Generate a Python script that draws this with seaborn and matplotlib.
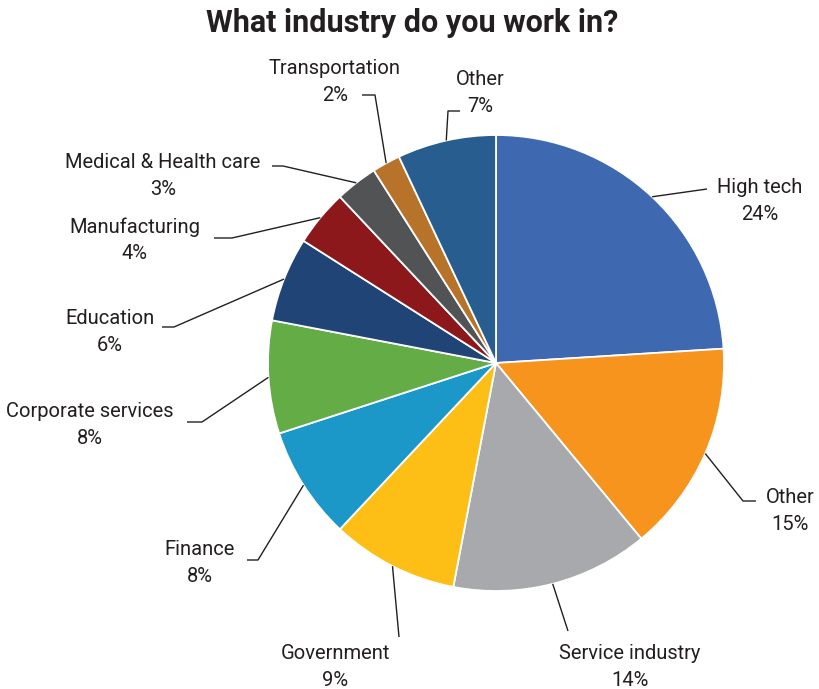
import numpy as np
import matplotlib
matplotlib.use("Agg")
import matplotlib.pyplot as plt
import seaborn as sns

# Survey answers: industry of respondents, in percent, clockwise from 12 o'clock
industries = ["High tech", "Other", "Service industry", "Government", "Finance",
              "Corporate services", "Education", "Manufacturing",
              "Medical & Health care", "Transportation", "Other"]
shares = [24, 15, 14, 9, 8, 8, 6, 4, 3, 2, 7]
slice_colors = ["#3E69B1", "#F7941E", "#A7A9AC", "#FDBF15", "#1B98C8", "#63AC46",
                "#1F4475", "#8C181C", "#525355", "#B8732A", "#275D8F"]

sns.set_theme(style="white")
plt.rcParams["font.family"] = ["Roboto", "DejaVu Sans"]

W, H = 820, 689
fig = plt.figure(figsize=(W / 100, H / 100), dpi=100)
ax = fig.add_axes([0, 0, 1, 1])

CX, CY, R = 496, 363, 228  # pie centre and radius in pixels (y down)


def py(y):
    """Convert a top-down pixel row to the axis' bottom-up coordinate."""
    return H - y


wedges, _ = ax.pie(shares, colors=sns.color_palette(slice_colors), startangle=90,
                   counterclock=False, radius=R, center=(CX, py(CY)),
                   wedgeprops=dict(edgecolor="white", linewidth=1.3))
ax.set_xlim(0, W)
ax.set_ylim(0, H)
ax.set_aspect("equal")
ax.axis("off")

# Label placement: leader-line bend points and label centre (pixels, y down)
layout = [
    ([(707, 189)], (760, 201)),
    ([(743, 501), (756, 501)], (790, 511)),
    ([(568, 631)], (630, 667)),
    ([(399, 637)], (335, 667)),
    ([(258, 560), (247, 560)], (200, 563)),
    ([(202, 422), (187, 422)], (90, 425)),
    ([(174, 327), (162, 327)], (110, 332)),
    ([(232, 238), (214, 238)], (135, 240)),
    ([(283, 166), (272, 166)], (163, 176)),
    ([(375, 95), (362, 95)], (335, 82)),
    ([(448, 111), (460, 111)], (480, 93)),
]

text_color = "#231F20"
for wedge, name, pct, (bends, (tx, ty)) in zip(wedges, industries, shares, layout):
    mid = np.deg2rad((wedge.theta1 + wedge.theta2) / 2)
    ax_x = CX + R * np.cos(mid)
    ax_y = CY - R * np.sin(mid)
    xs = [ax_x] + [b[0] for b in bends]
    ys = [py(ax_y)] + [py(b[1]) for b in bends]
    ax.plot(xs, ys, color="#231F20", lw=1.0, solid_capstyle="butt")
    ax.text(tx, py(ty), f"{name}\n{pct}%", ha="center", va="center",
            fontsize=14.5, color=text_color, linespacing=1.5, fontweight="normal")

ax.text(W / 2 + 2, py(23), "What industry do you work in?", ha="center", va="center",
        fontsize=22, fontweight="bold", color=text_color)

fig.savefig("out.png", dpi=100)
